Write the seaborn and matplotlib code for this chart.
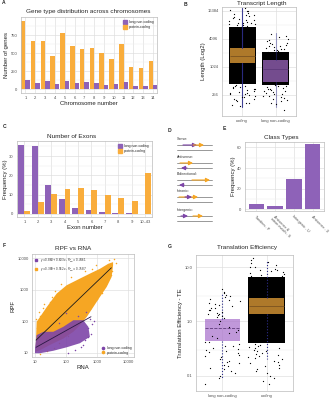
import matplotlib
matplotlib.use("Agg")
import matplotlib.pyplot as plt
from matplotlib.lines import Line2D
from matplotlib.ticker import FixedLocator, FixedFormatter, NullFormatter, NullLocator
import pandas as pd
import seaborn as sns

# ────────── data ───────────────────────────────────────────────────────────────
chromosomes = ["1", "2", "3", "4", "5", "6", "7", "8", "9", "10", "11", "12", "13", "14"]
pc_genes = [944, 671, 662, 463, 778, 593, 560, 574, 505, 426, 625, 310, 292, 393]
lnc_genes = [125, 83, 120, 74, 111, 93, 104, 93, 65, 69, 97, 51, 47, 65]

exon_bins = ["1", "2", "3", "4", "5", "6", "7", "8", "9", "10\u201343"]
lnc_exon = [35.6, 35.2, 14.8, 7.6, 3.1, 2.1, 1.2, 0.7, 0.3, 0.1]
pc_exon = [1.5, 6.0, 10.5, 12.8, 13.5, 12.3, 9.8, 8.1, 6.6, 21.1]

class_types = ["Tandem - P", "Antisense &\nintron match - S", "Intergenic - U", "Antisense - X"]
class_freq = [5.0, 3.3, 29.0, 63.5]

# transcript length (B): box stats + dense core + sparse points
len_groups = ["coding", "long non-coding"]
len_q1 = [1230, 495]
len_med = [1770, 930]
len_q3 = [2590, 1450]
len_lo = [140, 141]
len_hi = [19000, 5500]
len_core_lo = [430, 420]
len_core_hi = [7200, 2100]
coding_len_pts = [7400, 7900, 8300, 8700, 9100, 9700, 10400, 11200, 12300, 13100, 14600, 15800,
                  17200, 18600, 7600, 8100, 8900, 9400, 10900, 11800, 12900, 16300, 7300, 8500,
                  10100, 13800, 20500, 410, 396, 372, 355, 341, 322, 300, 288, 271, 255, 238,
                  226, 214, 198, 186, 171, 158, 147, 402, 380, 348, 315, 280, 262, 231, 205, 176]
lnc_len_pts = [2200, 2350, 2500, 2700, 2900, 3150, 3400, 3700, 4100, 4600, 5200, 2300, 2600,
               3000, 3300, 3900, 2450, 2800, 4400, 2150, 410, 392, 375, 351, 330, 312, 296, 280,
               262, 248, 231, 214, 200, 188, 172, 398, 365, 340, 305, 270, 240, 222, 160, 122]

# RPF vs RNA (F): cloud outlines + sparse points + fitted lines
pc_cloud_rna = [10.5, 11.3, 24, 50, 105, 282, 590, 1250, 2300, 3300, 3300, 2960, 2050, 1250,
                760, 470, 282, 173, 82, 30, 14.5, 10]
pc_cloud_rpf = [12, 95, 280, 745, 1370, 2230, 3200, 4560, 6560, 7400, 5900, 2500, 1210, 590,
                280, 137, 75, 46, 28, 17.5, 12, 10.7]
lnc_cloud_rna = [10, 11.3, 18.6, 39, 82, 173, 360, 525, 590, 282, 105, 39, 14.5, 10]
lnc_cloud_rpf = [13.8, 36, 46, 46, 66, 107, 107, 66, 32, 20, 14.8, 11.5, 9.6, 9.6]
pc_pts_rna = [11, 13, 15, 20, 18, 35, 45, 12, 30, 70, 150, 400, 900, 3500, 2500, 3000, 2000,
              1500, 1000, 600, 350, 200, 120, 60, 40, 25, 15, 4200, 2800, 700]
pc_pts_rpf = [120, 200, 150, 350, 260, 600, 900, 60, 400, 1500, 2500, 4000, 6000, 9000, 8500,
              4000, 1500, 800, 500, 250, 120, 60, 35, 20, 14, 11, 9, 7000, 3000, 4500]
lnc_pts_rna = [500, 700, 650, 400, 300, 200, 120, 600, 250, 100, 525, 360, 800, 450, 60]
lnc_pts_rpf = [60, 80, 40, 25, 15, 12, 10, 120, 150, 180, 32, 17.5, 100, 200, 90]
fit_lnc_rna = [10.8, 640]
fit_lnc_rpf = [14.8, 138]
fit_pc_rna = [10.8, 2900]
fit_pc_rpf = [25, 4900]
eq_lnc = r"$y = 0.868 + 0.603\ x,\ R^2_{adj} = 0.4461$"
eq_pc = r"$y = 0.389 + 0.962\ x,\ R^2_{adj} = 0.7587$"

# translation efficiency (G)
te_groups = ["long non-coding", "coding"]
te_q1 = [0.44, 1.37]
te_med = [0.76, 1.9]
te_q3 = [1.1, 2.7]
te_lo = [0.09, 0.2]
te_hi = [3.4, 13.6]
te_core_lo = [None, 0.4]
te_core_hi = [None, 6.5]
lnc_te_pts = [3.9, 3.5, 3.1, 2.8, 2.6, 2.4, 2.2, 2.0, 1.9, 1.75, 1.6, 1.5, 1.4, 1.3, 1.2, 1.15,
              3.3, 2.5, 1.8, 1.45, 1.25, 2.9, 2.1, 1.65, 1.35, 0.42, 0.39, 0.36, 0.33, 0.3, 0.28,
              0.26, 0.24, 0.22, 0.2, 0.18, 0.16, 0.15, 0.13, 0.12, 0.11, 0.1, 0.09, 0.41, 0.35,
              0.31, 0.27, 0.23, 0.19, 0.17, 0.14, 0.07, 0.9, 0.6, 1.0, 0.5, 0.7, 0.8, 0.55, 0.65]
coding_te_pts = [7.0, 7.5, 8.1, 8.8, 9.5, 10.3, 11.2, 12.4, 13.8, 6.8, 7.3, 7.9, 8.4, 9.1, 10.0,
                 11.8, 15.0, 0.38, 0.36, 0.34, 0.32, 0.3, 0.28, 0.26, 0.25, 0.23, 0.21, 0.2, 0.18,
                 0.17, 0.15, 0.14, 0.12, 0.11, 0.1, 0.09, 0.37, 0.33, 0.29, 0.24, 0.22, 0.19,
                 0.16, 0.13, 0.08, 0.07]

PURPLE = "#8E62B8"
ORANGE = "#F9AD3C"
PURPLE_F = "#7D45A8"
ORANGE_F = "#F6A623"
BLUE = "#2E2E8C"

W, H = 332, 400


def rect(l, t, r, b):
    return [l / W, 1 - b / H, (r - l) / W, (b - t) / H]


def ftext(fig, x, y, s, **kw):
    fig.text(x / W, 1 - y / H, s, **kw)


def style(ax):
    ax.tick_params(labelsize=3, pad=1, length=1.5, width=0.4, color="#999999",
                   labelcolor="#4D4D4D")
    ax.tick_params(which="minor", length=0)
    ax.xaxis.set_minor_formatter(NullFormatter())
    ax.yaxis.set_minor_formatter(NullFormatter())
    for sp in ax.spines.values():
        sp.set_color("#BBBBBB")
        sp.set_linewidth(0.5)
    ax.grid(True, which="major", color="#DDDDDD", lw=0.45)
    ax.grid(True, which="minor", color="#EEEEEE", lw=0.35)
    ax.set_axisbelow(True)


def legend_handles(colors, labels, marker="s", ms=2.6):
    return [Line2D([], [], ls="", marker=marker, ms=ms, color=c, label=l)
            for c, l in zip(colors, labels)]


# ────────── figure ─────────────────────────────────────────────────────────────
sns.set_theme(style="whitegrid")
plt.rcParams["font.family"] = ["Liberation Sans", "DejaVu Sans"]
plt.rcParams["axes.labelcolor"] = "#222222"

fig = plt.figure(figsize=(W / 100, H / 100), dpi=100)
fig.patch.set_facecolor("white")

# A: gene types per chromosome
ax = fig.add_axes(rect(21, 17, 157, 93))
df_a = pd.DataFrame({
    "chrom": chromosomes * 2,
    "n": pc_genes + lnc_genes,
    "type": ["protein-coding"] * len(pc_genes) + ["long non-coding"] * len(lnc_genes),
})
sns.barplot(data=df_a, x="chrom", y="n", hue="type", order=chromosomes,
            hue_order=["protein-coding", "long non-coding"], palette=[ORANGE, PURPLE],
            width=0.92, saturation=1, linewidth=0, legend=False, ax=ax)
ax.set_xlim(-0.45, 13.4)
ax.set_ylim(-50, 1000)
ax.yaxis.set_major_locator(FixedLocator([0, 250, 500, 750]))
ax.yaxis.set_minor_locator(FixedLocator([125, 375, 625, 875]))
style(ax)
ax.set_xlabel("Chromosome number", fontsize=4.3, labelpad=0.5)
ax.set_ylabel("Number of genes", fontsize=4.3, labelpad=1)
ax.legend(handles=legend_handles([PURPLE, ORANGE], ["long non-coding", "protein-coding"]),
          loc="upper right", fontsize=2.5, frameon=False, handletextpad=0.2,
          borderaxespad=0.5, labelspacing=0.3)
ftext(fig, 88, 12, "Gene type distribution across chromosomes", fontsize=4.6,
      ha="center", va="center")

# B: transcript length
ax = fig.add_axes(rect(222, 7, 296, 116))
for i, grp in enumerate(len_groups):
    ax.fill_betweenx([len_core_lo[i], len_core_hi[i]], i - 0.4, i + 0.4, color="black", lw=0)
sns.stripplot(x=["coding"] * len(coding_len_pts), y=coding_len_pts, order=len_groups,
              color="black", size=0.9, jitter=0.4, linewidth=0, ax=ax)
sns.stripplot(x=["long non-coding"] * len(lnc_len_pts), y=lnc_len_pts, order=len_groups,
              color="black", size=0.9, jitter=0.4, linewidth=0, ax=ax)
stats_b = [dict(med=len_med[i], q1=len_q1[i], q3=len_q3[i], whislo=len_lo[i],
                whishi=len_hi[i], label=len_groups[i]) for i in range(2)]
for i, col, mcol in [(0, ORANGE, "#7A5220"), (1, "#A66DCB", "#5E3A7A")]:
    ax.bxp([stats_b[i]], positions=[i], widths=0.74, patch_artist=True, showfliers=False,
           manage_ticks=False,
           boxprops=dict(facecolor=col, alpha=0.7, edgecolor="none"),
           medianprops=dict(color=mcol, lw=0.6),
           whiskerprops=dict(color=BLUE, lw=0.8, alpha=0.9 if i == 0 else 0.45),
           capprops=dict(lw=0))
ax.set_yscale("log", base=2)
ax.set_ylim(90.5, 19600)
ax.set_xlim(-0.6, 1.6)
ax.yaxis.set_major_locator(FixedLocator([256, 1024, 4096, 16384]))
ax.yaxis.set_major_formatter(FixedFormatter(["256", "1024", "4096", "16384"]))
ax.yaxis.set_minor_locator(FixedLocator([512, 2048, 8192]))
style(ax)
ax.set_xlabel("")
ax.set_ylabel("Length (Log2)", fontsize=4.3, labelpad=1)
ftext(fig, 262, 3.5, "Transcript Length", fontsize=4.6, ha="center", va="center")

# C: number of exons
ax = fig.add_axes(rect(17, 141, 152, 217))
df_c = pd.DataFrame({
    "bin": exon_bins * 2,
    "freq": lnc_exon + pc_exon,
    "type": ["long non-coding"] * len(lnc_exon) + ["protein-coding"] * len(pc_exon),
})
sns.barplot(data=df_c, x="bin", y="freq", hue="type", order=exon_bins,
            hue_order=["long non-coding", "protein-coding"], palette=[PURPLE, ORANGE],
            width=0.88, saturation=1, linewidth=0, legend=False, ax=ax)
ax.set_xlim(-0.55, 9.52)
ax.set_ylim(-1.6, 37.8)
ax.yaxis.set_major_locator(FixedLocator([0, 10, 20, 30]))
ax.yaxis.set_minor_locator(FixedLocator([5, 15, 25, 35]))
style(ax)
ax.set_xlabel("Exon number", fontsize=4.3, labelpad=0.5)
ax.set_ylabel("Frequency (%)", fontsize=4.3, labelpad=1)
ax.legend(handles=legend_handles([PURPLE, ORANGE], ["long non-coding", "protein-coding"]),
          loc="upper right", fontsize=2.5, frameon=False, handletextpad=0.2,
          borderaxespad=0.5, labelspacing=0.3)
ftext(fig, 72, 136, "Number of Exons", fontsize=4.6, ha="center", va="center")

# D: class schematics
ax = fig.add_axes(rect(168, 133, 215, 230))
ax.set_xlim(168, 215)
ax.set_ylim(230, 133)
ax.axis("off")
schem = [
    ("Sense:", 139, [(183, 197, PURPLE_F), (193, 204, ORANGE_F)], []),
    ("Antisense:", 157, [(180, 193, ORANGE_F)], [(187, 181, PURPLE_F)]),
    ("Bidirectional:", 174, [(192, 210, ORANGE_F)], [(184, 179, PURPLE_F)]),
    ("Intronic:", 191, [(179, 198, ORANGE_F), (185, 192, PURPLE_F)], []),
    ("Intergenic:", 210, [(181, 188, PURPLE_F), (193, 203, ORANGE_F)], []),
]
for name, ty, top, bottom in schem:
    ax.text(177, ty, name, fontsize=2.6, va="center", ha="left", color="#333333")
    for yy, segs in [(ty + 6, top), (ty + 11, bottom)]:
        ax.plot([177, 212], [yy, yy], color="#888888", lw=0.6)
        for x0, x1, c in segs:
            ax.annotate("", xy=(x1, yy), xytext=(x0, yy),
                        arrowprops=dict(arrowstyle="-|>,head_length=0.2,head_width=0.1",
                                        color=c, lw=0.8, shrinkA=0, shrinkB=0))

# E: class types
ax = fig.add_axes(rect(245, 142, 324, 211))
sns.barplot(x=class_types, y=class_freq, color=PURPLE, saturation=1, width=0.82,
            linewidth=0, ax=ax)
ax.set_xlim(-0.6, 3.6)
ax.set_ylim(-1.65, 65.3)
ax.yaxis.set_major_locator(FixedLocator([0, 20, 40, 60]))
ax.yaxis.set_minor_locator(FixedLocator([10, 30, 50]))
style(ax)
ax.set_xticks(range(4))
ax.set_xticklabels(class_types, rotation=-45, ha="left", rotation_mode="anchor",
                   fontsize=2.7, linespacing=1.0)
ax.set_ylabel("Frequency (%)", fontsize=4.3, labelpad=1)
ftext(fig, 281, 137, "Class Types", fontsize=4.6, ha="center", va="center")

# F: RPF vs RNA
ax = fig.add_axes(rect(32, 254, 134, 357))
ax.set_xscale("log")
ax.set_yscale("log")
ax.fill(pc_cloud_rna, pc_cloud_rpf, color=ORANGE_F, lw=0)
ax.scatter(pc_pts_rna, pc_pts_rpf, s=1.2, color=ORANGE_F, lw=0)
ax.fill(lnc_cloud_rna, lnc_cloud_rpf, color=PURPLE_F, lw=0, alpha=0.9)
ax.scatter(lnc_pts_rna, lnc_pts_rpf, s=1.2, color=PURPLE_F, lw=0)
sns.lineplot(x=fit_pc_rna, y=fit_pc_rpf, color="#1A1A1A", lw=0.6, ax=ax)
sns.lineplot(x=fit_lnc_rna, y=fit_lnc_rpf, color="#2A1745", lw=0.6, ax=ax)
ax.set_xlim(8.0, 15600)
ax.set_ylim(7.3, 13400)
ticks = [10, 100, 1000, 10000]
labs = ["10", "100", "1000", "10000"]
for axis in (ax.xaxis, ax.yaxis):
    axis.set_major_locator(FixedLocator(ticks))
    axis.set_major_formatter(FixedFormatter(labs))
    axis.set_minor_locator(NullLocator())
style(ax)
ax.set_xlabel("RNA", fontsize=4.3, labelpad=0.5)
ax.set_ylabel("RPF", fontsize=4.3, labelpad=1)
leg = ax.legend(handles=legend_handles([PURPLE_F, ORANGE_F], [eq_lnc, eq_pc], ms=1.8),
                loc="upper left", fontsize=1.9, frameon=False, handletextpad=0.2,
                borderaxespad=0.3, labelspacing=0.5)
ax.add_artist(leg)
ax.legend(handles=legend_handles([PURPLE_F, ORANGE_F], ["long non-coding", "protein-coding"],
                                 marker="o", ms=1.6),
          loc="lower right", fontsize=2.5, frameon=False, handletextpad=0.2,
          borderaxespad=0.3, labelspacing=0.2)
ftext(fig, 73, 248, "RPF vs RNA", fontsize=4.6, ha="center", va="center")

# G: translation efficiency
ax = fig.add_axes(rect(196, 255, 293, 391))
ax.fill_betweenx([te_core_lo[1], te_core_hi[1]], 1 - 0.42, 1 + 0.42, color="black", lw=0)
sns.stripplot(x=["long non-coding"] * len(lnc_te_pts), y=lnc_te_pts, order=te_groups,
              color="black", size=0.9, jitter=0.42, linewidth=0, ax=ax)
sns.stripplot(x=["coding"] * len(coding_te_pts), y=coding_te_pts, order=te_groups,
              color="black", size=0.9, jitter=0.42, linewidth=0, ax=ax)
stats_g = [dict(med=te_med[i], q1=te_q1[i], q3=te_q3[i], whislo=te_lo[i],
                whishi=te_hi[i], label=te_groups[i]) for i in range(2)]
for i, col, mcol, mls in [(0, "#A66DCB", "#5E3A7A", "--"), (1, ORANGE, "#7A5220", "-")]:
    ax.bxp([stats_g[i]], positions=[i], widths=0.8, patch_artist=True, showfliers=False,
           manage_ticks=False,
           boxprops=dict(facecolor=col, alpha=0.7, edgecolor="none"),
           medianprops=dict(color=mcol, lw=0.6, ls=mls),
           whiskerprops=dict(color=BLUE, lw=0.8, ls=":"),
           capprops=dict(lw=0))
ax.set_yscale("log")
ax.set_ylim(0.052, 16.9)
ax.set_xlim(-0.6, 1.6)
ax.yaxis.set_major_locator(FixedLocator([0.1, 1, 10]))
ax.yaxis.set_major_formatter(FixedFormatter(["0.1", "1.0", "10.0"]))
ax.yaxis.set_minor_locator(FixedLocator([0.3, 3]))
style(ax)
ax.set_xlabel("")
ax.set_ylabel("Translation Efficiency - TE", fontsize=4.3, labelpad=1)
ftext(fig, 247, 248, "Translation Efficiency", fontsize=4.6, ha="center", va="center")

# panel letters
for letter, x, y in [("A", 2, 3), ("B", 184, 4), ("C", 3, 127), ("D", 168, 130),
                     ("E", 223, 129), ("F", 3, 245), ("G", 168, 246)]:
    ftext(fig, x, y, letter, fontsize=3.6, fontweight="bold", ha="left", va="center")

fig.savefig("out.png", dpi=100)
